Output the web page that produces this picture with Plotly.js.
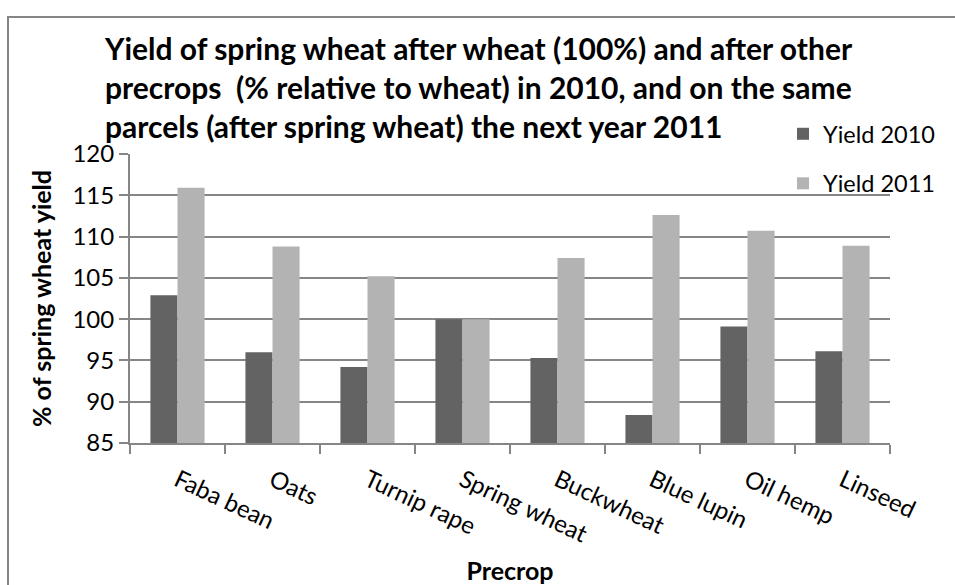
<!DOCTYPE html>
<html>
<head>
<meta charset="utf-8">
<script src="https://cdn.plot.ly/plotly-3.0.1.min.js"></script>
<style>
html,body{margin:0;padding:0;background:#fff;}
#chart{width:955px;height:585px;}
</style>
</head>
<body>
<div id="chart"></div>
<script>
const categories = ["Faba bean","Oats","Turnip rape","Spring wheat","Buckwheat","Blue lupin","Oil hemp","Linseed"];
const yield2010 = [102.9, 96.0, 94.2, 100.0, 95.3, 88.4, 99.1, 96.1];
const yield2011 = [115.9, 108.8, 105.2, 100.0, 107.4, 112.6, 110.7, 108.9];
const seriesNames = ["Yield 2010","Yield 2011"];
const titleText = "Yield of spring wheat after wheat (100%) and after other<br>precrops  (% relative to wheat) in 2010, and on the same<br>parcels (after spring wheat) the next year 2011";

const W = 955, H = 585;
const m = {l:130, r:65, t:154, b:142};
const pw = W - m.l - m.r, ph = H - m.t - m.b;
const FONT = "Lato, 'Open Sans', sans-serif";

const traces = [
  {type:"bar", name:seriesNames[0], legendgroup:"a", x:categories, y:yield2010, marker:{color:"#636363"}},
  {type:"bar", name:seriesNames[1], legendgroup:"b", x:categories, y:yield2011, marker:{color:"#b3b3b3"}}
];

const layout = {
  width:W, height:H,
  margin:m,
  paper_bgcolor:"#fff", plot_bgcolor:"#fff",
  font:{family:FONT, color:"#000", size:24},
  barmode:"group", bargap:0.43, bargroupgap:0,
  title:{text:titleText, font:{family:FONT, size:30, color:"#000", weight:"bold"},
         x:105/W, xanchor:"left", xref:"container",
         y:1-60/H, yanchor:"top", yref:"container"},
  xaxis:{type:"category", tickson:"boundaries", ticks:"outside", ticklen:9, tickcolor:"#868686", tickwidth:2,
         showline:true, linecolor:"#868686", linewidth:2, showgrid:false,
         tickangle:25, tickfont:{size:24}, automargin:false, ticklabelstandoff:12,
         title:{text:"Precrop", font:{size:25, weight:"bold"}, standoff:26}},
  yaxis:{range:[85,120], dtick:5, tick0:85, ticks:"outside", ticklen:9, tickcolor:"#868686", tickwidth:2,
         showline:true, linecolor:"#868686", linewidth:2, showgrid:true, gridcolor:"#868686", gridwidth:2,
         zeroline:false, tickfont:{size:24}, automargin:false,
         title:{text:"% of spring wheat yield", font:{size:25, weight:"bold"}, standoff:14}},
  showlegend:true,
  legend:{x:(783-m.l)/pw, xanchor:"left", y:1+(m.t-112)/ph, yanchor:"top", bgcolor:"rgba(0,0,0,0)",
          font:{size:23.5}, tracegroupgap:16, itemwidth:30, traceorder:"grouped"},
  shapes:[{type:"rect", xref:"paper", yref:"paper",
           x0:(8-m.l)/pw, x1:(W+10-m.l)/pw, y0:-(m.b+10)/ph, y1:(H-m.b-17)/ph,
           line:{color:"#868686", width:2}, fillcolor:"rgba(0,0,0,0)", layer:"below"}]
};

Plotly.newPlot("chart", traces, layout, {displayModeBar:false, staticPlot:true});
</script>
</body>
</html>
